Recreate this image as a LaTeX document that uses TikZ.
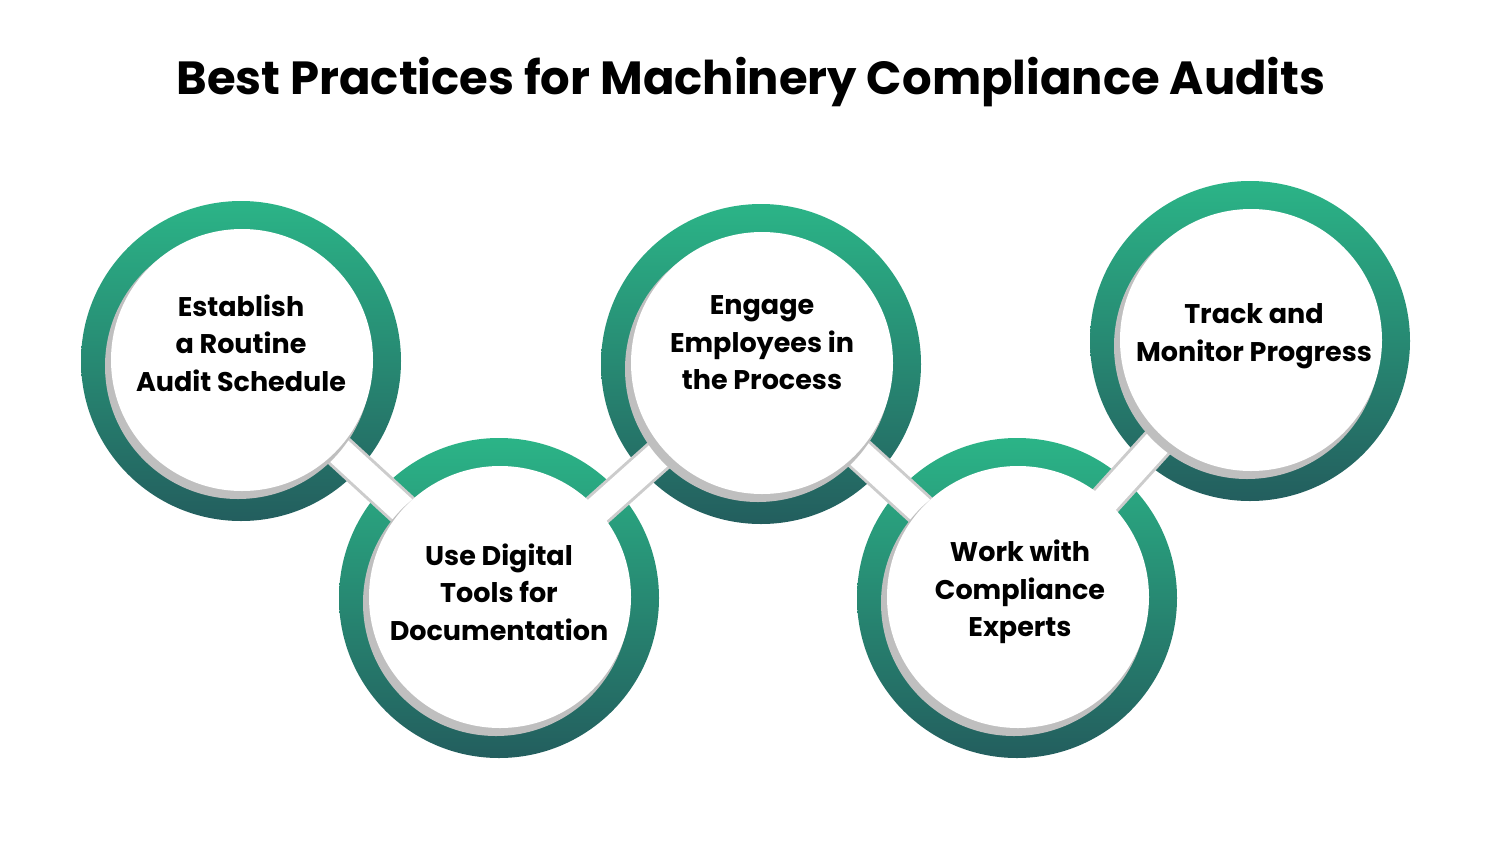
\documentclass[tikz,border=0pt]{standalone}
\usepackage{fontspec}
\setmainfont{Poppins}
\definecolor{gtop}{HTML}{2BB487}
\definecolor{gbot}{HTML}{235E5E}
\tikzset{
  ring/.style={circle,minimum size=320pt,inner sep=0pt,top color=gtop,bottom color=gbot,draw=none},
  shadowdisk/.style={circle,minimum size=266pt,inner sep=0pt,fill=black!25,draw=none},
  disk/.style={circle,minimum size=262pt,inner sep=0pt,fill=white,draw=none},
  lbl/.style={align=center,font=\fontsize{27}{37.5}\selectfont\bfseries},
  bridge/.style={line width=28pt,white},
  bridgeshadow/.style={line width=34pt,black!20}
}
\begin{document}
\begin{tikzpicture}[x=1pt,y=-1pt]
\useasboundingbox[fill=white] (0,0) rectangle (1500,844);
\node[font=\fontsize{46.5}{52}\selectfont\bfseries] (title) at (751,82) {Best Practices for Machinery Compliance Audits};
\foreach \n/\x/\y in {a/241/361,b/499/598,c/761/364,d/1017/598,e/1250/341}{
  \node[ring] (r\n) at (\x,\y) {};
}
\foreach \p/\q in {a/b,b/c,c/d,d/e}{
  \draw[bridgeshadow] (r\p.center) -- (r\q.center);
}
\foreach \p/\q in {a/b,b/c,c/d,d/e}{
  \draw[bridge] (r\p.center) -- (r\q.center);
}
\foreach \n/\x/\y in {a/241/361,b/499/598,c/761/364,d/1017/598,e/1250/341}{
  \node[shadowdisk] at (\x-3,\y+5) {};
  \node[disk] (d\n) at (\x+1,\y-1) {};
}
\node[lbl] (ta) at (241,343) {Establish\\a Routine\\Audit Schedule};
\node[lbl] (tb) at (499,592) {Use Digital\\Tools for\\Documentation};
\node[lbl] (tc) at (762,343) {Engage\\Employees in\\the Process};
\node[lbl] (td) at (1020,592) {Work with\\Compliance\\Experts};
\node[lbl] (te) at (1254,336) {Track and\\Monitor Progress};
\end{tikzpicture}
\end{document}
